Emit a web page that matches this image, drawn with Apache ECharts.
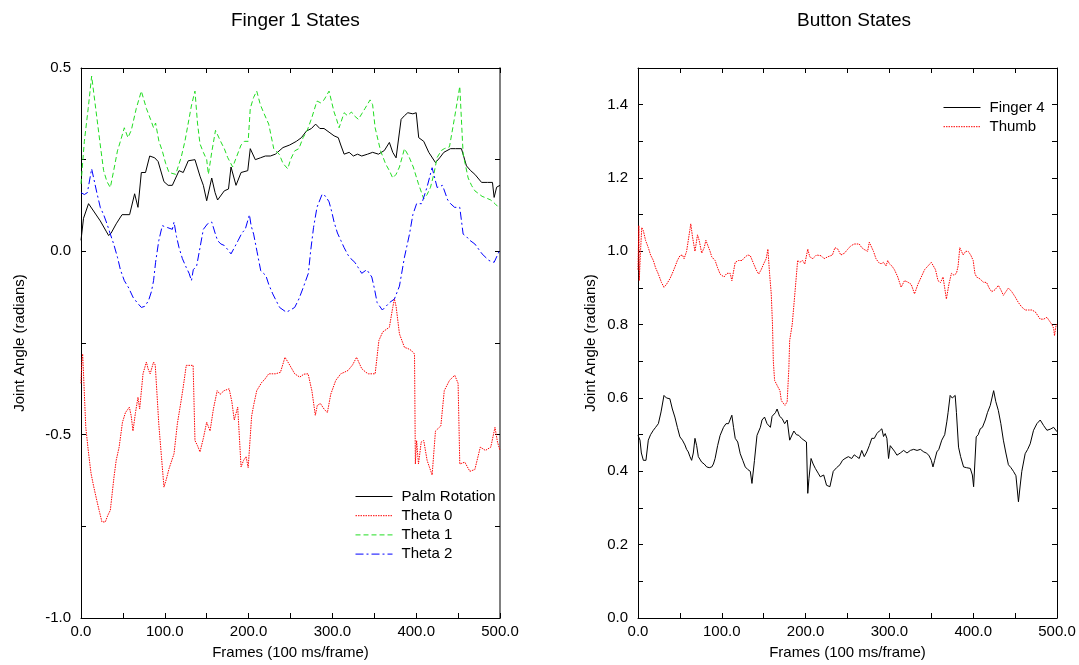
<!DOCTYPE html>
<html>
<head>
<meta charset="utf-8">
<script src="https://cdn.jsdelivr.net/npm/echarts@6/dist/echarts.min.js"></script>
<style>
  html, body { margin: 0; padding: 0; background: #fff; }
  #chart { width: 1079px; height: 665px; }
</style>
</head>
<body>
<div id="chart"></div>
<script>
// [frame, joint angle] readings
var palmRotation = [[0,0.03],[3,0.09],[9,0.13],[15,0.11],[23,0.083],[30,0.055],[33,0.043],[36,0.05],[42,0.075],[49,0.10],[58,0.10],[64,0.157],[68,0.12],[72,0.215],[77,0.215],[82,0.26],[88,0.255],[92,0.245],[99,0.19],[104,0.18],[109,0.18],[117,0.22],[122,0.215],[128,0.247],[136,0.25],[142,0.205],[146,0.18],[150,0.138],[156,0.2],[160,0.16],[163,0.14],[171,0.165],[176,0.17],[179,0.23],[185,0.18],[191,0.215],[199,0.22],[202,0.28],[208,0.25],[214,0.255],[220,0.26],[226,0.26],[232,0.265],[241,0.283],[249,0.29],[257,0.30],[263,0.31],[269,0.328],[275,0.335],[280,0.347],[285,0.335],[290,0.335],[296,0.325],[302,0.315],[307,0.31],[310,0.29],[314,0.265],[320,0.27],[325,0.26],[330,0.265],[335,0.26],[342,0.265],[348,0.27],[355,0.265],[362,0.275],[368,0.297],[372,0.27],[376,0.255],[382,0.36],[386,0.37],[390,0.378],[396,0.375],[400,0.378],[403,0.31],[409,0.30],[415,0.27],[423,0.242],[428,0.255],[433,0.27],[441,0.28],[447,0.28],[454,0.28],[460,0.233],[465,0.22],[470,0.21],[478,0.188],[485,0.188],[491,0.188],[493,0.147],[496,0.175],[500,0.18]];

var theta0 = [[0,-0.36],[1,-0.30],[2,-0.28],[5.7,-0.48],[9,-0.55],[12,-0.606],[15,-0.64],[18.9,-0.68],[22,-0.71],[25,-0.738],[29,-0.738],[32,-0.72],[35,-0.706],[39.4,-0.615],[42,-0.57],[45.5,-0.534],[49.5,-0.466],[53,-0.44],[57.7,-0.425],[60,-0.45],[62,-0.49],[65,-0.44],[68,-0.398],[70,-0.43],[74,-0.334],[78,-0.302],[80,-0.32],[82.5,-0.334],[86.6,-0.302],[88.6,-0.31],[92.8,-0.47],[96,-0.56],[99,-0.643],[102,-0.62],[105,-0.593],[111,-0.552],[115,-0.47],[119.5,-0.407],[122,-0.37],[125.6,-0.311],[133.8,-0.311],[136,-0.516],[139,-0.53],[142,-0.547],[146,-0.51],[150,-0.466],[154,-0.49],[158,-0.43],[162.5,-0.38],[166,-0.39],[170.7,-0.38],[176.8,-0.375],[180,-0.41],[182.9,-0.46],[187,-0.425],[191,-0.588],[194,-0.57],[197,-0.56],[199.5,-0.59],[203.6,-0.45],[206,-0.42],[209.7,-0.38],[215.8,-0.357],[219,-0.35],[224,-0.334],[232,-0.334],[238,-0.33],[243.4,-0.289],[248,-0.306],[255,-0.334],[261,-0.343],[266,-0.335],[271,-0.334],[275.5,-0.38],[279.6,-0.447],[282,-0.42],[285.7,-0.415],[290,-0.43],[294,-0.44],[298,-0.39],[304,-0.352],[310,-0.334],[314,-0.33],[318.6,-0.325],[324,-0.31],[328.8,-0.289],[335,-0.32],[340,-0.33],[343,-0.334],[351,-0.334],[355.5,-0.243],[360,-0.22],[368,-0.207],[372,-0.153],[374,-0.13],[376,-0.15],[380,-0.225],[386,-0.262],[390,-0.265],[394,-0.27],[398,-0.28],[399,-0.58],[400.5,-0.516],[402.7,-0.58],[406,-0.52],[409,-0.516],[413,-0.57],[416,-0.59],[419,-0.61],[423,-0.49],[429.4,-0.476],[433.5,-0.38],[439.7,-0.352],[446,-0.338],[450,-0.36],[452,-0.58],[458,-0.575],[464,-0.6],[470,-0.595],[476.5,-0.534],[482.6,-0.543],[489,-0.534],[494,-0.48],[497,-0.52],[500,-0.543]];

var theta1 = [[0,0.184],[4,0.3],[8.6,0.39],[12.7,0.478],[18.9,0.365],[23,0.29],[27,0.22],[31,0.19],[35,0.174],[39,0.22],[43.5,0.274],[47,0.3],[51.7,0.337],[56,0.31],[60,0.33],[66,0.39],[72,0.437],[78,0.39],[83,0.36],[86.6,0.337],[89,0.35],[93,0.3],[97,0.274],[101,0.24],[105,0.215],[113,0.21],[119.5,0.256],[124,0.3],[128,0.35],[132,0.4],[136,0.437],[139,0.35],[142,0.293],[146,0.27],[150,0.25],[152,0.21],[156,0.27],[160.5,0.33],[166.6,0.30],[171,0.28],[175,0.256],[181,0.23],[186,0.26],[191,0.29],[195,0.3],[199.5,0.30],[202,0.39],[206,0.42],[209.7,0.437],[214,0.4],[218,0.378],[224,0.347],[230,0.28],[236.5,0.265],[241,0.24],[246.7,0.225],[250,0.25],[255,0.274],[260,0.28],[265,0.31],[270,0.33],[275.5,0.365],[281.6,0.41],[286,0.405],[290,0.413],[296,0.437],[302,0.38],[305,0.36],[308,0.337],[314,0.378],[318,0.37],[322.7,0.38],[326,0.37],[331,0.36],[335,0.375],[339,0.39],[345,0.413],[348,0.4],[351,0.337],[357.5,0.274],[363.6,0.238],[368,0.22],[372,0.2],[376,0.21],[380,0.23],[386,0.28],[391,0.26],[396.5,0.23],[402.7,0.184],[409,0.143],[413,0.155],[417,0.174],[421,0.21],[425,0.256],[430,0.275],[433.5,0.28],[439.7,0.285],[445.8,0.365],[452,0.45],[456,0.265],[462,0.2],[466,0.18],[470,0.165],[478.6,0.15],[484,0.145],[489,0.14],[494,0.13],[500,0.116]];

var theta2 = [[0,0.16],[4,0.155],[7.6,0.16],[12.7,0.225],[18.9,0.16],[23,0.12],[27,0.10],[31,0.075],[35,0.047],[39,0.02],[43.5,-0.016],[47,-0.05],[51.7,-0.08],[57,-0.1],[62,-0.125],[67,-0.14],[72,-0.153],[76,-0.15],[80.5,-0.135],[84,-0.11],[86.6,-0.08],[89,-0.03],[92.8,0.029],[97,0.07],[103,0.065],[109,0.06],[111,0.08],[114,0.04],[117,0.01],[121,-0.02],[125.6,-0.044],[129,-0.06],[131.8,-0.08],[134,-0.05],[138,-0.04],[142,0.01],[146,0.06],[151,0.075],[156,0.08],[160,0.05],[163,0.029],[167,0.02],[171,0.016],[175,0.005],[179,-0.007],[183,0.01],[187.6,0.03],[192,0.05],[196,0.06],[201,0.10],[203,0.07],[206,0.047],[210,0.0],[214.5,-0.053],[220.6,-0.066],[224,-0.09],[228.8,-0.116],[233,-0.135],[237,-0.153],[245,-0.166],[250,-0.16],[255,-0.153],[260,-0.13],[265,-0.1],[271.3,-0.06],[274,0.0],[277.5,0.065],[281.6,0.12],[287.8,0.156],[292,0.15],[296,0.135],[299,0.11],[302,0.08],[306,0.05],[310,0.03],[314,0.01],[318.6,-0.01],[322,-0.02],[326.8,-0.03],[331,-0.045],[335,-0.06],[341,-0.05],[347,-0.07],[350,-0.1],[353.4,-0.14],[359.6,-0.16],[364,-0.15],[368,-0.14],[374,-0.13],[380,-0.095],[386,-0.016],[392,0.047],[396,0.1],[400.5,0.13],[406.6,0.13],[412.8,0.174],[419,0.228],[425,0.174],[431.4,0.18],[437.6,0.14],[441,0.13],[445.8,0.12],[452,0.12],[456,0.047],[460,0.04],[464,0.03],[470,0.02],[478.6,-0.007],[486.8,-0.025],[493,-0.03],[499,0.0],[500,-0.005]];

var finger4 = [[0,0.498],[2.4,0.485],[4,0.45],[6.4,0.43],[9.5,0.43],[12.3,0.485],[15,0.5],[18.3,0.512],[21,0.52],[24.3,0.53],[27.5,0.562],[31,0.607],[34,0.6],[38,0.598],[41,0.57],[44,0.548],[47,0.52],[50,0.494],[53,0.485],[56,0.472],[58,0.46],[60,0.453],[62,0.44],[64,0.43],[66,0.45],[68,0.49],[70,0.47],[72,0.44],[74,0.435],[76,0.425],[79,0.42],[82,0.412],[85,0.41],[88,0.412],[90,0.42],[92,0.435],[95,0.47],[98,0.498],[102,0.52],[105,0.53],[108,0.53],[110,0.53],[112,0.553],[114,0.52],[116,0.49],[119,0.48],[122,0.448],[125,0.43],[128,0.412],[131,0.405],[134,0.4],[136,0.367],[139,0.43],[142,0.498],[146,0.52],[148,0.54],[151,0.548],[154,0.53],[158,0.52],[160,0.55],[162,0.548],[164,0.56],[166,0.57],[169,0.55],[172,0.544],[175,0.53],[178,0.54],[181,0.485],[183,0.49],[186,0.51],[189,0.5],[192,0.498],[195,0.49],[198,0.485],[201,0.48],[202.6,0.34],[204,0.38],[206.5,0.435],[209,0.42],[211.6,0.408],[215,0.395],[217.5,0.385],[221.6,0.39],[225,0.362],[229,0.358],[233,0.4],[237,0.41],[241,0.418],[244,0.43],[247,0.435],[251,0.44],[255,0.435],[258,0.445],[261,0.44],[264,0.435],[267,0.457],[270,0.44],[273,0.453],[276,0.47],[279,0.49],[282,0.49],[285,0.503],[288,0.51],[291,0.516],[293,0.495],[295,0.503],[297,0.49],[299,0.435],[301,0.47],[303,0.466],[306,0.455],[309,0.444],[313,0.45],[317,0.457],[321,0.45],[325,0.457],[329,0.46],[333,0.457],[337,0.46],[341,0.453],[344,0.45],[347,0.444],[350,0.43],[352,0.412],[354,0.43],[356.6,0.453],[359,0.46],[362.5,0.485],[366,0.5],[368.5,0.535],[370,0.56],[372.5,0.607],[375,0.6],[378.5,0.607],[380,0.56],[382.5,0.466],[385,0.44],[388.5,0.412],[392,0.41],[396.5,0.408],[399,0.39],[400.5,0.358],[403.6,0.494],[406,0.5],[408.4,0.516],[411,0.52],[414.4,0.54],[417,0.56],[420.4,0.58],[424.4,0.62],[427,0.59],[430,0.566],[433,0.53],[436,0.485],[439,0.45],[442,0.418],[445,0.41],[448,0.4],[451,0.388],[454,0.317],[456,0.36],[458,0.4],[462,0.448],[465,0.46],[468,0.475],[472,0.512],[476,0.53],[480,0.54],[484,0.525],[488,0.512],[492,0.515],[496,0.52],[500,0.508]];

var thumb = [[0,0.95],[1,1.07],[1.5,0.92],[3,1.0],[4.5,1.065],[6.4,1.056],[9,1.03],[12.3,1.01],[15,0.99],[18.3,0.975],[21,0.955],[24.3,0.938],[28,0.915],[31,0.902],[34,0.91],[38,0.925],[41,0.94],[44,0.957],[47,0.975],[50,0.988],[53,0.99],[55,0.98],[58,1.0],[60,1.03],[62,1.06],[63,1.075],[65,1.04],[68,1.0],[71,1.045],[73,1.03],[76,0.995],[79,1.01],[81,1.03],[83,1.027],[86,1.0],[88,0.985],[92,0.975],[95,0.955],[98,0.938],[102.6,0.93],[106,0.94],[110,0.94],[112,0.92],[116,0.97],[120,0.975],[124,0.975],[128,0.985],[131,0.99],[134,0.988],[138,0.966],[141,0.95],[144,0.938],[147,0.95],[150,0.966],[153,0.98],[155,1.006],[157,0.94],[159,0.884],[160.5,0.8],[161.5,0.70],[163,0.648],[167,0.63],[169.4,0.62],[171,0.593],[175.4,0.58],[178,0.59],[180,0.68],[181,0.757],[184,0.8],[186.5,0.866],[190.5,0.975],[193,0.97],[196.5,0.975],[199,0.965],[202.6,1.006],[205,0.985],[208.6,0.98],[213,0.99],[218.5,0.988],[222,0.98],[226.5,0.985],[232,0.99],[235,1.01],[238.5,1.006],[242,0.99],[246.4,0.995],[250,1.005],[254,1.015],[258,1.02],[264,1.02],[267,1.01],[270,1.005],[274,1.0],[276,1.025],[278,1.025],[281,1.0],[284,0.98],[287,0.97],[290,0.966],[293,0.97],[296,0.96],[298,0.975],[300,0.966],[303,0.96],[306,0.95],[310,0.93],[314,0.902],[318,0.92],[322,0.916],[326,0.91],[330,0.884],[334,0.91],[338,0.93],[342,0.95],[346,0.96],[350,0.97],[352,0.975],[355,0.95],[358,0.92],[361,0.915],[364,0.93],[366,0.9],[368,0.87],[371,0.91],[374,0.94],[377,0.935],[380,0.94],[382,0.96],[384,1.01],[388,0.99],[391,1.0],[394,1.0],[397,0.99],[400,0.975],[402,0.94],[404,0.93],[408,0.925],[412,0.916],[416,0.915],[419,0.9],[422,0.89],[426,0.895],[430,0.907],[433,0.895],[436,0.88],[439,0.89],[442,0.9],[446,0.89],[450,0.876],[454,0.86],[458,0.848],[462,0.84],[466,0.84],[470,0.84],[474,0.835],[477,0.825],[480,0.815],[484,0.815],[488,0.82],[490,0.815],[494,0.8],[496,0.79],[497,0.77],[499,0.8],[500,0.8]];

var leftNames = ['Palm Rotation', 'Theta 0', 'Theta 1', 'Theta 2'];
var rightNames = ['Finger 4', 'Thumb'];

var FONT = 'Liberation Sans';

function xAxisFor(grid, pos) {
  var bottom = pos === 'bottom';
  return {
    type: 'value', gridIndex: grid, position: pos, min: 0, max: 500, interval: 50,
    name: bottom ? 'Frames (100 ms/frame)' : '',
    nameLocation: 'middle', nameGap: 27,
    nameTextStyle: { fontFamily: FONT, fontSize: 15, color: '#000' },
    axisLine: { show: true, onZero: false, lineStyle: { color: '#000', width: 1 } },
    axisTick: { show: true, inside: true, length: 5, lineStyle: { color: '#000' } },
    axisLabel: {
      show: bottom, margin: 6, fontFamily: FONT, fontSize: 15, color: '#000',
      formatter: function (v) { return v % 100 === 0 ? v.toFixed(1) : ''; }
    },
    splitLine: { show: false }
  };
}

function yAxisFor(grid, pos, min, max, step, labelStep, gap, lineColor, lineWidth) {
  var left = pos === 'left';
  return {
    type: 'value', gridIndex: grid, position: pos, min: min, max: max, interval: step,
    name: left ? 'Joint Angle (radians)' : '',
    nameLocation: 'middle', nameGap: gap,
    nameTextStyle: { fontFamily: FONT, fontSize: 15, color: '#000' },
    axisLine: { show: true, onZero: false, lineStyle: { color: lineColor || '#000', width: lineWidth || 1 } },
    axisTick: { show: true, inside: true, length: 5, lineStyle: { color: '#000', width: 1 } },
    axisLabel: {
      show: left, margin: 10, fontFamily: FONT, fontSize: 15, color: '#000',
      showMaxLabel: true, showMinLabel: true,
      formatter: function (v) {
        var k = v / labelStep;
        return Math.abs(k - Math.round(k)) < 1e-6 ? v.toFixed(1) : '';
      }
    },
    splitLine: { show: false }
  };
}

function line(name, data, color, type, xi, yi) {
  return {
    name: name, type: 'line', data: data, xAxisIndex: xi, yAxisIndex: yi,
    symbol: 'none', showSymbol: false, animation: false,
    lineStyle: { color: color, width: 1, type: type },
    itemStyle: { color: color }
  };
}

function legendFor(names, left, top) {
  return {
    data: names, orient: 'vertical', left: left, top: top, padding: 0,
    itemWidth: 37, itemHeight: 14, itemGap: 4.2, selectedMode: false,
    itemStyle: { opacity: 0, borderWidth: 0 },
    lineStyle: { width: 1 },
    textStyle: { fontFamily: FONT, fontSize: 15, color: '#000', padding: [0, 0, 0, 4] }
  };
}

var chart = echarts.init(document.getElementById('chart'));
chart.setOption({
  backgroundColor: '#fff',
  animation: false,
  title: [
    { text: 'Finger 1 States', left: 226, top: 6, textStyle: { fontFamily: FONT, fontSize: 19, fontWeight: 'normal', color: '#000' } },
    { text: 'Button States', left: 792, top: 6, textStyle: { fontFamily: FONT, fontSize: 19, fontWeight: 'normal', color: '#000' } }
  ],
  grid: [
    { left: 81, top: 68, width: 419, height: 550 },
    { left: 638, top: 68, width: 419, height: 550 }
  ],
  xAxis: [xAxisFor(0, 'bottom'), xAxisFor(0, 'top'), xAxisFor(1, 'bottom'), xAxisFor(1, 'top')],
  yAxis: [
    yAxisFor(0, 'left', -1.0, 0.5, 0.25, 0.5, 54),
    yAxisFor(0, 'right', -1.0, 0.5, 0.25, 0.5, 0, '#808080', 2),
    yAxisFor(1, 'left', 0, 1.5, 0.1, 0.2, 40),
    yAxisFor(1, 'right', 0, 1.5, 0.1, 0.2, 0)
  ],
  legend: [legendFor(leftNames, 355, 489), legendFor(rightNames, 943, 100)],
  series: [
    line('Palm Rotation', palmRotation, '#000000', 'solid', 0, 0),
    line('Theta 0', theta0, '#ff0000', [1.5, 1], 0, 0),
    line('Theta 1', theta1, '#22dd22', [5, 3], 0, 0),
    line('Theta 2', theta2, '#0000ff', [8, 3, 2, 3], 0, 0),
    line('Finger 4', finger4, '#000000', 'solid', 2, 2),
    line('Thumb', thumb, '#ff0000', [1.5, 1], 2, 2)
  ]
});
</script>
</body>
</html>
